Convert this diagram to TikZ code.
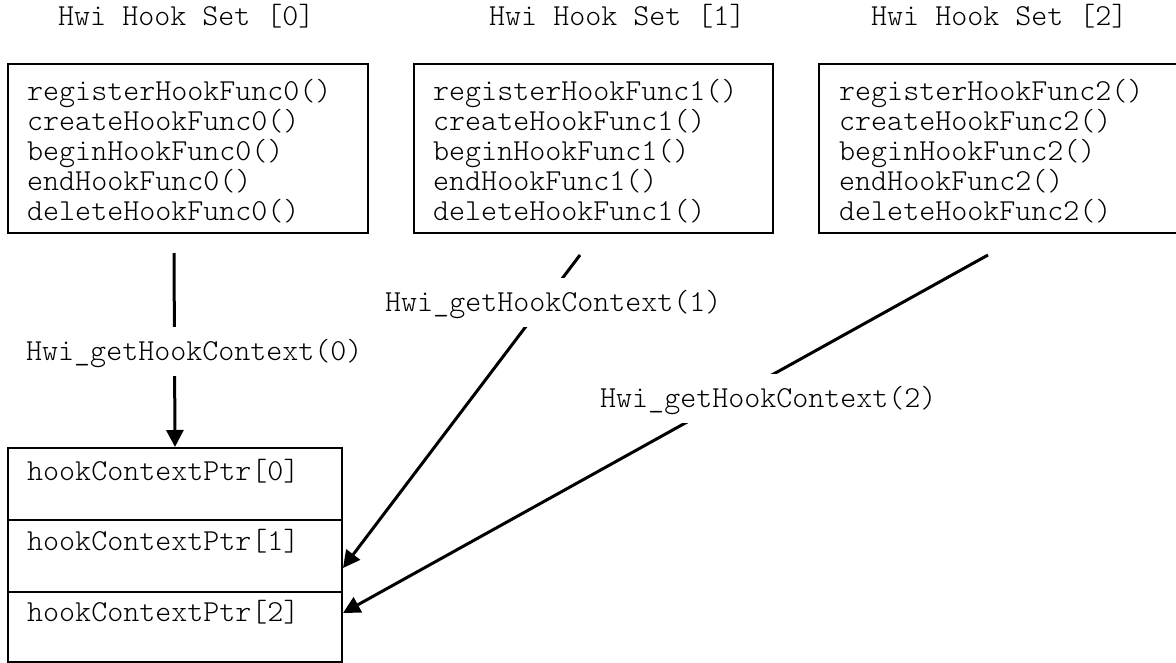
\documentclass[tikz,border=0pt]{standalone}
\usetikzlibrary{arrows.meta}
\begin{document}
\begin{tikzpicture}[x=1pt,y=-1pt,
  box/.style={draw, line width=2pt, inner sep=0pt, anchor=north west},
  txt/.style={font=\ttfamily\fontseries{l}\fontsize{30.5}{29.4}\selectfont, inner sep=0pt, anchor=base west},
  lbl/.style={font=\ttfamily\fontseries{l}\fontsize{30.5}{29.4}\selectfont, fill=white, inner xsep=4pt, inner ysep=0pt, text height=33pt, text depth=16pt, anchor=base west},
  conn/.style={line width=3pt, -{Triangle[length=17pt,width=17pt]}}]
\useasboundingbox (0,0) rectangle (1176,662);
\fill[white] (0,0) rectangle (1176,662);

% titles
\node[txt] (t0) at (58,25) {Hwi Hook Set [0]};
\node[txt] (t1) at (489,25) {Hwi Hook Set [1]};
\node[txt] (t2) at (871,25) {Hwi Hook Set [2]};

% hook set boxes
\node[box, minimum width=360pt, minimum height=169pt] (b0) at (7,63) {};
\node[box, minimum width=359pt, minimum height=169pt] (b1) at (413,63) {};
\node[box, minimum width=366pt, minimum height=169pt] (b2) at (818,63) {};

\node[txt] (f0) at (27,100) {\begin{tabular}[t]{@{}l@{}}registerHookFunc0()\\createHookFunc0()\\beginHookFunc0()\\endHookFunc0()\\deleteHookFunc0()\end{tabular}};
\node[txt] (f1) at (433,100) {\begin{tabular}[t]{@{}l@{}}registerHookFunc1()\\createHookFunc1()\\beginHookFunc1()\\endHookFunc1()\\deleteHookFunc1()\end{tabular}};
\node[txt] (f2) at (839,100) {\begin{tabular}[t]{@{}l@{}}registerHookFunc2()\\createHookFunc2()\\beginHookFunc2()\\endHookFunc2()\\deleteHookFunc2()\end{tabular}};

% context pointer array
\node[box, minimum width=334pt, minimum height=72pt] (c0) at (7,447) {};
\node[box, minimum width=334pt, minimum height=72pt] (c1) at (7,519) {};
\node[box, minimum width=334pt, minimum height=70pt] (c2) at (7,591) {};
\node[txt] (h0) at (27,480) {hookContextPtr[0]};
\node[txt] (h1) at (27,550) {hookContextPtr[1]};
\node[txt] (h2) at (27,621) {hookContextPtr[2]};

% connectors
\coordinate (s0) at (174,253);
\coordinate (s1) at (580,255);
\coordinate (s2) at (988,255);
\draw[conn] (s0) -- (c0.north);
\draw[conn] (s1) -- ([yshift=-12pt]c1.east);
\draw[conn] (s2) -- ([yshift=14pt]c2.east);

% labels
\node[lbl] (l0) at (22,360) {Hwi\_getHookContext(0)};
\node[lbl] (l1) at (381,311) {Hwi\_getHookContext(1)};
\node[lbl] (l2) at (596,407) {Hwi\_getHookContext(2)};
\end{tikzpicture}
\end{document}
